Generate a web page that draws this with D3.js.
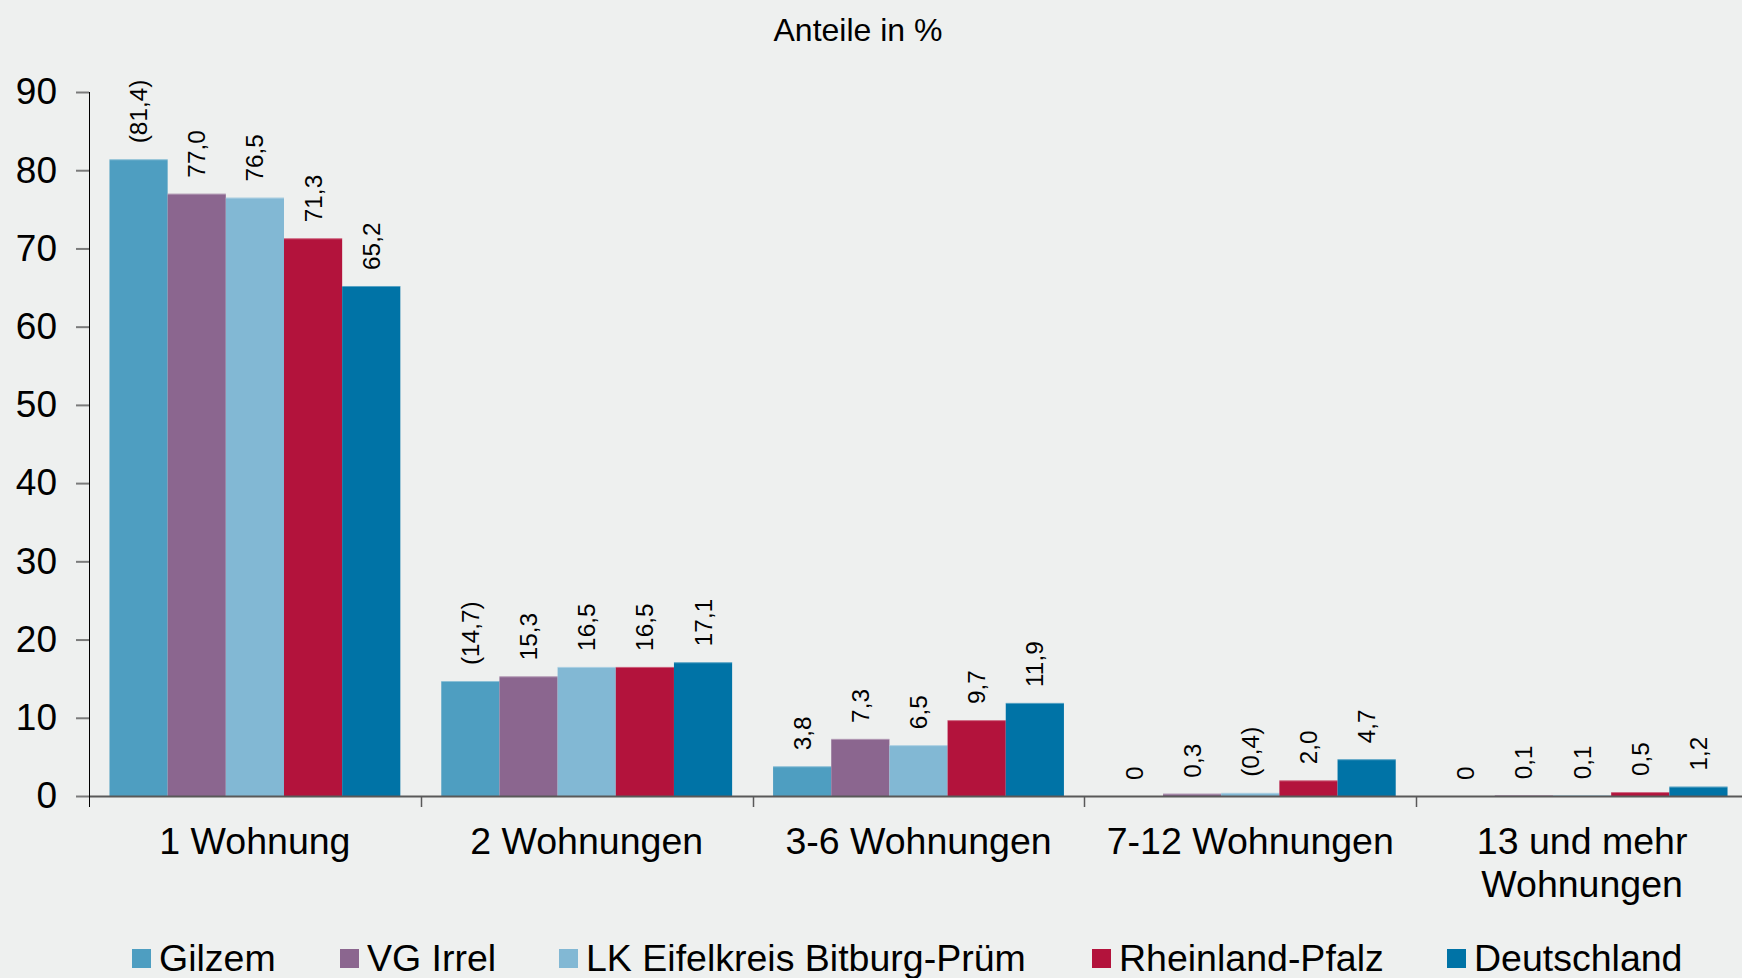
<!DOCTYPE html>
<html>
<head>
<meta charset="utf-8">
<script src="https://cdn.jsdelivr.net/npm/d3@7"></script>
<style>
  html, body { margin: 0; padding: 0; background: #eef0ef; }
  svg { display: block; font-family: "Liberation Sans", Arial, sans-serif; }
</style>
</head>
<body>
<svg id="chart" width="1742" height="978"></svg>
<script>
// ---- data ----
const categories = ["1 Wohnung", "2 Wohnungen", "3-6 Wohnungen", "7-12 Wohnungen", "13 und mehr Wohnungen"];
const categoryLines = [["1 Wohnung"], ["2 Wohnungen"], ["3-6 Wohnungen"], ["7-12 Wohnungen"], ["13 und mehr", "Wohnungen"]];
const seriesNames = ["Gilzem", "VG Irrel", "LK Eifelkreis Bitburg-Prüm", "Rheinland-Pfalz", "Deutschland"];
const seriesColors = ["#4e9ec1", "#8b668f", "#82b8d4", "#b3133c", "#0073a6"];
const gilzem      = [81.4, 14.7, 3.8, 0, 0];
const vgIrrel     = [77.0, 15.3, 7.3, 0.3, 0.1];
const lkEifel     = [76.5, 16.5, 6.5, 0.4, 0.1];
const rlp         = [71.3, 16.5, 9.7, 2.0, 0.5];
const deutschland = [65.2, 17.1, 11.9, 4.7, 1.2];
const gilzemBracketed  = [true, true, false, false, false];
const vgBracketed      = [false, false, false, false, false];
const lkBracketed      = [false, false, false, true, false];
const rlpBracketed     = [false, false, false, false, false];
const deBracketed      = [false, false, false, false, false];
const yTicks = [0, 10, 20, 30, 40, 50, 60, 70, 80, 90];
const title = "Anteile in %";

const seriesValues = [gilzem, vgIrrel, lkEifel, rlp, deutschland];
const seriesBracketed = [gilzemBracketed, vgBracketed, lkBracketed, rlpBracketed, deBracketed];

// ---- layout ----
const svg = d3.select("#chart");
const x0 = d3.scaleBand().domain(categories).range([89, 1748]).paddingInner(0).paddingOuter(0);
const x1 = d3.scaleBand().domain(seriesNames).range([0, x0.bandwidth()]).paddingInner(0).paddingOuter(0.352);
const y = d3.scaleLinear().domain([0, 90]).range([796, 92]);

function fmt(v, br) {
  const s = v === 0 ? "0" : v.toFixed(1).replace(".", ",");
  return br ? "(" + s + ")" : s;
}

// title
svg.append("text")
  .attr("x", 858).attr("y", 41)
  .attr("text-anchor", "middle")
  .attr("font-size", 32)
  .attr("fill", "#000")
  .text(title);

// y axis
const yAxis = d3.axisLeft(y).tickValues(yTicks).tickSize(13).tickPadding(19).tickFormat(d => d);
const yg = svg.append("g").attr("transform", "translate(89,0)").call(yAxis);
yg.select(".domain").remove();
yg.selectAll(".tick line").attr("stroke", "#7a7a7a").attr("stroke-width", 2);
yg.selectAll(".tick text").attr("font-size", 37).attr("fill", "#000")
  .attr("font-family", "Liberation Sans, Arial, sans-serif");

// bars
const groups = svg.append("g").selectAll("g")
  .data(categories)
  .join("g")
  .attr("transform", d => `translate(${x0(d)},0)`);

groups.each(function(cat, ci) {
  const g = d3.select(this);
  seriesNames.forEach((s, si) => {
    const v = seriesValues[si][ci];
    const bx = x1(s);
    const bw = x1.bandwidth();
    if (v > 0) {
      g.append("rect")
        .attr("x", bx).attr("width", bw)
        .attr("y", y(v)).attr("height", y(0) - y(v))
        .attr("fill", seriesColors[si]);
      g.append("line")
        .attr("x1", bx).attr("x2", bx + bw)
        .attr("y1", y(v) + 0.5).attr("y2", y(v) + 0.5)
        .attr("stroke", "#ffffff").attr("stroke-opacity", 0.35).attr("stroke-width", 1);
    }
    const cx = bx + bw / 2;
    const ty = y(v) - 16;
    g.append("text")
      .attr("transform", `translate(${cx},${ty}) rotate(-90)`)
      .attr("dy", "0.35em")
      .attr("font-size", 24.4)
      .attr("fill", "#000")
      .text(fmt(v, seriesBracketed[si][ci]));
  });
});

// x axis line
svg.append("line")
  .attr("x1", 89).attr("x2", 1742)
  .attr("y1", y(0) + 0.5).attr("y2", y(0) + 0.5)
  .attr("stroke", "#595959").attr("stroke-width", 2);

// y axis line
svg.append("line")
  .attr("x1", 89.5).attr("x2", 89.5)
  .attr("y1", y(90)).attr("y2", 807)
  .attr("stroke", "#000").attr("stroke-width", 1);

// category separators
const seps = categories.map(c => x0(c)).concat([x0.range()[1]]);
svg.append("g").selectAll("line")
  .data(seps.slice(1))
  .join("line")
  .attr("x1", d => Math.round(d) + 0.5).attr("x2", d => Math.round(d) + 0.5)
  .attr("y1", y(0)).attr("y2", 807)
  .attr("stroke", "#595959").attr("stroke-width", 1.5);

// category labels
svg.append("g").selectAll("text")
  .data(categories)
  .join("text")
  .attr("x", d => x0(d) + x0.bandwidth() / 2)
  .attr("y", 854)
  .attr("text-anchor", "middle")
  .attr("font-size", 37.5)
  .attr("fill", "#000")
  .each(function(d, i) {
    const t = d3.select(this);
    categoryLines[i].forEach((ln, li) => {
      t.append("tspan")
        .attr("x", x0(d) + x0.bandwidth() / 2)
        .attr("dy", li === 0 ? 0 : 43)
        .text(ln);
    });
  });

// legend
const legendX = [132, 340, 559, 1092, 1447];
const lg = svg.append("g").selectAll("g")
  .data(seriesNames)
  .join("g")
  .attr("transform", (d, i) => `translate(${legendX[i]},0)`);
lg.append("rect")
  .attr("x", 0).attr("y", 949).attr("width", 19).attr("height", 19)
  .attr("fill", (d, i) => seriesColors[i]);
lg.append("text")
  .attr("x", 27).attr("y", 971)
  .attr("font-size", 37.5)
  .attr("fill", "#000")
  .text(d => d);
</script>
</body>
</html>
